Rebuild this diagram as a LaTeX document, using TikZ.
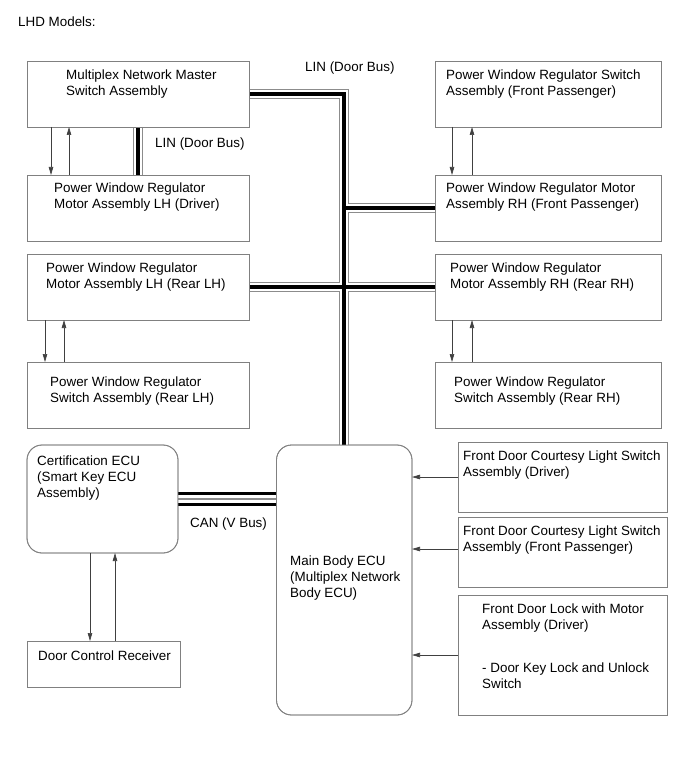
\documentclass[tikz,border=0pt]{standalone}
\usepackage{fontspec}
\setmainfont{Liberation Sans}
\usetikzlibrary{arrows.meta}

\tikzset{
  box/.style={draw=black!50,line width=0.8pt,anchor=north west,inner sep=0pt,outer sep=0pt},
  ecubox/.style={box,rounded corners=15pt},
  txt/.style={anchor=base west,align=left,inner sep=0pt,font=\fontsize{13.4}{16}\selectfont},
  sig/.style={draw=black!75,line width=0.7pt,-{Triangle[length=8pt,width=4.5pt]}}
}

\begin{document}
\begin{tikzpicture}[x=1pt,y=-1pt]
\useasboundingbox(0,0)rectangle(691,759);
\node[txt](title)at(18,27){LHD Models:};
% left column
\node[box,minimum width=222,minimum height=66](master)at(27,61){};
\node[box,minimum width=222,minimum height=66](drvmotor)at(27,175){};
\node[box,minimum width=222,minimum height=66](rlmotor)at(27,254){};
\node[box,minimum width=222,minimum height=66](rlswitch)at(27,362){};
\node[ecubox,minimum width=151,minimum height=108](cert)at(27,445){};
\node[box,minimum width=153,minimum height=46](receiver)at(27,641){};
% centre and right column
\node[ecubox,minimum width=135.5,minimum height=270](ecu)at(276.5,445){};
\node[box,minimum width=226,minimum height=66](fpswitch)at(435,61){};
\node[box,minimum width=226,minimum height=66](fpmotor)at(435,175){};
\node[box,minimum width=226,minimum height=66](rrmotor)at(435,254){};
\node[box,minimum width=226,minimum height=66](rrswitch)at(435,362){};
\node[box,minimum width=209,minimum height=70](cdrv)at(458,442){};
\node[box,minimum width=209,minimum height=70](cfp)at(458,517){};
\node[box,minimum width=209,minimum height=120](lock)at(458,595){};
% buses
\foreach \w/\c in {10/black!45,8/white,4/black}{
  \draw[line width=\w pt,\c](master.east)-|(ecu.north);
  \draw[line width=\w pt,\c](master.south)--(drvmotor.north);
  \draw[line width=\w pt,\c](fpmotor.west)--(fpmotor.west-|ecu.north);
  \draw[line width=\w pt,\c](rlmotor.east)--(rrmotor.west);
}
\foreach \w/\c in {14/black,7.5/white,1.5/black!45}
  \draw[line width=\w pt,\c](cert.east)--(cert.east-|ecu.west);
% redraw borders over bus ends
\foreach \n in {master,drvmotor,rlmotor,fpmotor,rrmotor}
  \draw[draw=black!50,line width=0.8pt](\n.north west)rectangle(\n.south east);
\draw[draw=black!50,line width=0.8pt,rounded corners=15pt](cert.north west)rectangle(cert.south east);
\draw[draw=black!50,line width=0.8pt,rounded corners=15pt](ecu.north west)rectangle(ecu.south east);
% signal lines
\draw[sig]([xshift=24]master.south west)--([xshift=24]drvmotor.north west);
\draw[sig]([xshift=42]drvmotor.north west)--([xshift=42]master.south west);
\draw[sig]([xshift=18]rlmotor.south west)--([xshift=18]rlswitch.north west);
\draw[sig]([xshift=37]rlswitch.north west)--([xshift=37]rlmotor.south west);
\draw[sig]([xshift=17]fpswitch.south west)--([xshift=17]fpmotor.north west);
\draw[sig]([xshift=37]fpmotor.north west)--([xshift=37]fpswitch.south west);
\draw[sig]([xshift=17]rrmotor.south west)--([xshift=17]rrswitch.north west);
\draw[sig]([xshift=37]rrswitch.north west)--([xshift=37]rrmotor.south west);
\draw[sig]([xshift=63]cert.south west)--([xshift=63]receiver.north west);
\draw[sig]([xshift=88]receiver.north west)--([xshift=88]cert.south west);
\draw[sig](cdrv.west)--(cdrv.west-|ecu.east);
\draw[sig]([yshift=3]cfp.west)--([yshift=3]cfp.west-|ecu.east);
\draw[sig](lock.west)--(lock.west-|ecu.east);
% texts (base = last line)
\node[txt](lintop)at(305,72){LIN (Door Bus)};
\node[txt](lindrv)at(155,148){LIN (Door Bus)};
\node[txt](can)at(190,527){CAN (V Bus)};
\node[txt](mastertxt)at(66,96){Multiplex Network Master\\Switch Assembly};
\node[txt](drvmotortxt)at(54,208){Power Window Regulator\\Motor Assembly LH (Driver)};
\node[txt](rlmotortxt)at(46,288){Power Window Regulator\\Motor Assembly LH (Rear LH)};
\node[txt](rlswitchtxt)at(50,402){Power Window Regulator\\Switch Assembly (Rear LH)};
\node[txt](certtxt)at(37,497){Certification ECU\\(Smart Key ECU\\Assembly)};
\node[txt](receivertxt)at(38,660){Door Control Receiver};
\node[txt](ecutxt)at(290,597){Main Body ECU\\(Multiplex Network\\Body ECU)};
\node[txt](fpswitchtxt)at(446,96){Power Window Regulator Switch\\Assembly (Front Passenger)};
\node[txt](fpmotortxt)at(446,208){Power Window Regulator Motor\\Assembly RH (Front Passenger)};
\node[txt](rrmotortxt)at(450,288){Power Window Regulator\\Motor Assembly RH (Rear RH)};
\node[txt](rrswitchtxt)at(454,402){Power Window Regulator\\Switch Assembly (Rear RH)};
\node[txt](cdrvtxt)at(463,476){Front Door Courtesy Light Switch\\Assembly (Driver)};
\node[txt](cfptxt)at(463,551){Front Door Courtesy Light Switch\\Assembly (Front Passenger)};
\node[txt](locktxt)at(482,688){Front Door Lock with Motor\\Assembly (Driver)\\[27pt]- Door Key Lock and Unlock\\Switch};
\end{tikzpicture}
\end{document}
